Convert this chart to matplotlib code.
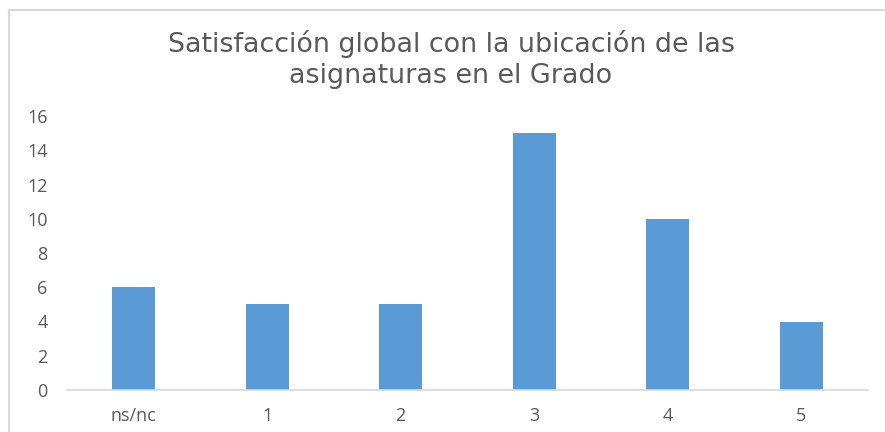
import matplotlib
matplotlib.use("Agg")
import matplotlib.pyplot as plt
from matplotlib.lines import Line2D

categorias = ["ns/nc", "1", "2", "3", "4", "5"]
valores = [6, 5, 5, 15, 10, 4]
titulo = ["Satisfacción global con la ubicación de las", "asignaturas en el Grado"]

plt.rcParams['font.family'] = ['Open Sans', 'DejaVu Sans']

fig = plt.figure(figsize=(8.85, 4.32), dpi=100)
ax = fig.add_axes([67 / 885, 1 - 390 / 432, 801 / 885, 274 / 432])

x = range(len(categorias))
ax.bar(x, valores, width=0.32, color="#5b9bd5")
ax.set_xlim(-0.5, len(categorias) - 0.5)
ax.set_ylim(0, 16)
ax.set_yticks(range(0, 17, 2))
ax.set_xticks(list(x))
ax.set_xticklabels(categorias)

for s in ["top", "right", "left"]:
    ax.spines[s].set_visible(False)
ax.spines["bottom"].set_color("#d9d9d9")
ax.spines["bottom"].set_linewidth(1.2)
ax.tick_params(length=0, colors="#595959", labelsize=13)
ax.tick_params(axis="x", pad=12)
ax.tick_params(axis="y", pad=14)

# titulo en dos lineas (lineas de base medidas en la imagen)
for linea, yb in zip(titulo, [52, 83]):
    fig.text(451 / 885, 1 - yb / 432, linea, ha="center", va="baseline",
             fontsize=19.4, color="#595959", family=["DejaVu Sans"])

# borde del area del grafico
fig.add_artist(Line2D([9 / 885, 1.0], [1 - 10 / 432] * 2, color="#d9d9d9", lw=1.5))
fig.add_artist(Line2D([9 / 885] * 2, [0, 1 - 10 / 432], color="#d9d9d9", lw=1.5))

plt.savefig("out.png")
plt.close()
